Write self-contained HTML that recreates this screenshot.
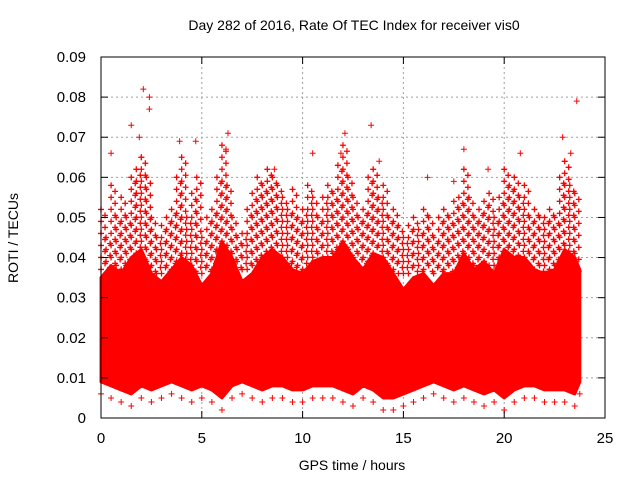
<!DOCTYPE html>
<html><head><meta charset="utf-8"><style>
body{margin:0;background:#fff}
svg{display:block;font-family:"Liberation Sans",sans-serif}
</style></head><body>
<svg id="chart" width="640" height="480">
<text x="354" y="30" font-size="14" text-anchor="middle">Day 282 of 2016, Rate Of TEC Index for receiver vis0</text>
<text x="352" y="470" font-size="14" text-anchor="middle">GPS time / hours</text>
<text x="18" y="238" font-size="14" text-anchor="middle" transform="rotate(-90 18 238)">ROTI / TECUs</text>
<g id="grid"></g><g id="marks"></g><g id="axes"></g>
</svg>
<script>
const xTicks=[0,5,10,15,20,25];
const yTicks=[0,0.01,0.02,0.03,0.04,0.05,0.06,0.07,0.08,0.09];
const yTickLabels=["0","0.01","0.02","0.03","0.04","0.05","0.06","0.07","0.08","0.09"];
const binHours=[0,0.5,1,1.5,2,2.5,3,3.5,4,4.5,5,5.5,6,6.5,7,7.5,8,8.5,9,9.5,10,10.5,11,11.5,12,12.5,13,13.5,14,14.5,15,15.5,16,16.5,17,17.5,18,18.5,19,19.5,20,20.5,21,21.5,22,22.5,23,23.5,23.75];
const upperRoti=[0.035,0.038,0.036,0.04,0.042,0.036,0.034,0.037,0.04,0.038,0.033,0.036,0.044,0.04,0.034,0.036,0.04,0.042,0.04,0.037,0.036,0.039,0.04,0.04,0.044,0.04,0.037,0.041,0.04,0.036,0.032,0.035,0.036,0.033,0.036,0.036,0.041,0.037,0.039,0.036,0.042,0.04,0.04,0.037,0.036,0.037,0.042,0.04,0.037];
const lowerRoti=[0.009,0.008,0.007,0.006,0.008,0.007,0.008,0.009,0.008,0.007,0.008,0.007,0.005,0.008,0.009,0.008,0.007,0.008,0.008,0.007,0.007,0.008,0.008,0.008,0.007,0.006,0.008,0.007,0.005,0.005,0.006,0.007,0.008,0.009,0.008,0.007,0.008,0.007,0.006,0.007,0.005,0.007,0.008,0.008,0.007,0.007,0.007,0.006,0.009];
const spikeHours=[0.1,0.35,0.6,0.85,1.1,1.35,1.6,1.85,2.1,2.35,2.6,2.85,3.1,3.35,3.6,3.85,4.1,4.35,4.6,4.85,5.1,5.35,5.6,5.85,6.1,6.35,6.6,6.85,7.1,7.35,7.6,7.85,8.1,8.35,8.6,8.85,9.1,9.35,9.6,9.85,10.1,10.35,10.6,10.85,11.1,11.35,11.6,11.85,12.1,12.35,12.6,12.85,13.1,13.35,13.6,13.85,14.1,14.35,14.6,14.85,15.1,15.35,15.6,15.85,16.1,16.35,16.6,16.85,17.1,17.35,17.6,17.85,18.1,18.35,18.6,18.85,19.1,19.35,19.6,19.85,20.1,20.35,20.6,20.85,21.1,21.35,21.6,21.85,22.1,22.35,22.6,22.85,23.1,23.35,23.6];
const spikeRoti=[0.052,0.045,0.058,0.05,0.055,0.05,0.06,0.062,0.065,0.06,0.05,0.045,0.048,0.05,0.052,0.06,0.065,0.05,0.056,0.06,0.045,0.05,0.052,0.06,0.068,0.058,0.05,0.045,0.046,0.052,0.056,0.06,0.058,0.062,0.06,0.058,0.055,0.052,0.057,0.05,0.052,0.058,0.055,0.05,0.055,0.058,0.056,0.063,0.068,0.06,0.055,0.05,0.052,0.06,0.062,0.055,0.058,0.05,0.052,0.048,0.045,0.048,0.05,0.047,0.052,0.05,0.045,0.05,0.052,0.05,0.054,0.055,0.062,0.055,0.05,0.052,0.054,0.056,0.05,0.055,0.062,0.058,0.06,0.055,0.058,0.05,0.052,0.05,0.05,0.052,0.05,0.06,0.064,0.058,0.056];
const outlierHours=[2.1,2.4,2.4,1.5,6.3,12.1,13.4,23.6,22.9,3.9,4.7,10.5,0.5,18,20.8,17.5,13.8,1.9,8.6,11.9,23.3,6.2,2.0,16.2,19.2];
const outlierRoti=[0.082,0.080,0.077,0.073,0.071,0.071,0.073,0.079,0.070,0.069,0.069,0.066,0.066,0.067,0.066,0.059,0.064,0.070,0.062,0.066,0.066,0.067,0.065,0.060,0.062];
const X=h=>101+h*(504/25), Y=v=>418-v*(361/0.09);
const ns="http://www.w3.org/2000/svg";
const mk=(t,p,a)=>{const e=document.createElementNS(ns,t);for(const k in a)e.setAttribute(k,a[k]);p.appendChild(e);return e;};
const grid=document.getElementById('grid'),axes=document.getElementById('axes'),marks=document.getElementById('marks');
xTicks.forEach(t=>{
 if(t>0&&t<25){const l=mk('line',grid,{x1:X(t),x2:X(t),y1:57,y2:418,stroke:'#a0a0a0','stroke-dasharray':'2,3','stroke-width':1});
 
 }
 mk('line',axes,{x1:X(t),x2:X(t),y1:418,y2:411,stroke:'#000'});
 mk('line',axes,{x1:X(t),x2:X(t),y1:57,y2:64,stroke:'#000'});
 const tx=mk('text',axes,{x:X(t),y:443,'font-size':15,'text-anchor':'middle'});tx.textContent=t;
 
 
});
yTicks.forEach((t,i)=>{
 if(t>0&&t<0.09){const l=mk('line',grid,{x1:101,x2:605,y1:Y(t),y2:Y(t),stroke:'#a0a0a0','stroke-dasharray':'2,3','stroke-width':1});
 
 }
 mk('line',axes,{x1:101,x2:108,y1:Y(t),y2:Y(t),stroke:'#000'});
 mk('line',axes,{x1:605,x2:598,y1:Y(t),y2:Y(t),stroke:'#000'});
 const tx=mk('text',axes,{x:86,y:Y(t)+5,'font-size':15,'text-anchor':'end'});tx.textContent=yTickLabels[i];
 
 
});
const fr=mk('rect',axes,{x:101,y:57,width:504,height:361,fill:'none',stroke:'#000'});


let d='';
binHours.forEach((h,i)=>{d+=(i?'L':'M')+X(h)+','+Y(upperRoti[i]);});
for(let i=binHours.length-1;i>=0;i--)d+='L'+X(binHours[i])+','+Y(lowerRoti[i]);
const band=mk('path',marks,{d:d+'Z',fill:'#ff0000',stroke:'#ff0000','stroke-width':3,'stroke-linejoin':'round'});


// spikes: columns of crosses from the core up to the spike value
spikeHours.forEach((h,i)=>{
 let s='';
 const top=Y(spikeRoti[i]);
 for(let y=top;y<Y(0.036);y+=6){const x=X(h)+((Math.round((y-top)/6))%2?2:-2);s+=`M${x-3},${y}h6M${x},${y-3}v6`;}
 const p=mk('path',marks,{d:s,stroke:'#ff0000','stroke-width':1.3});
 
 
});
binHours.forEach((h,i)=>{
 const v=lowerRoti[i]-0.003;
 const p=mk('path',marks,{d:`M${X(h)-3},${Y(v)}h6M${X(h)},${Y(v)-3}v6`,stroke:'#ff0000','stroke-width':1});
 
 
});
outlierHours.forEach((h,i)=>{
 const p=mk('path',marks,{d:`M${X(h)-3},${Y(outlierRoti[i])}h6M${X(h)},${Y(outlierRoti[i])-3}v6`,stroke:'#ff0000','stroke-width':1});
 
 
});
</script>
</body></html>
